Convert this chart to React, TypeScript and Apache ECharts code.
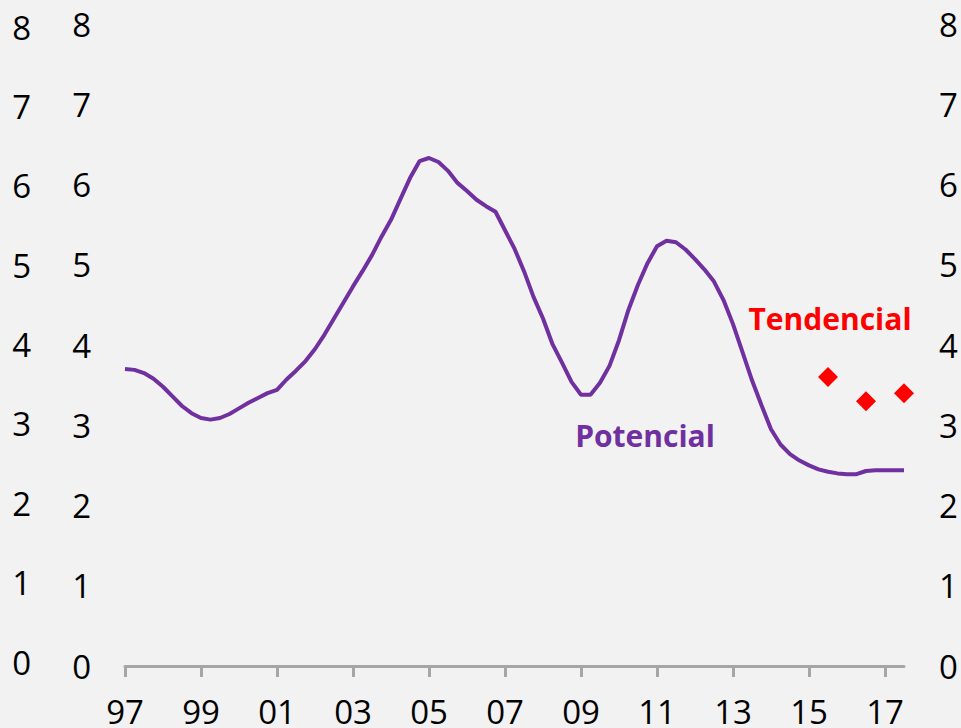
import React, { useEffect, useRef } from "react";
import * as echarts from "echarts";

// Quarterly categories 1997T1 .. 2017T3
const years = [1997, 1998, 1999, 2000, 2001, 2002, 2003, 2004, 2005, 2006, 2007, 2008, 2009, 2010, 2011, 2012, 2013, 2014, 2015, 2016, 2017];
const quarters = ["T1", "T2", "T3", "T4"];
const categories: string[] = [];
years.forEach((y) => quarters.forEach((q) => categories.push(`${y}${q}`)));
categories.splice(categories.indexOf("2017T4"), 1);

const potencial = [
  3.70, 3.69, 3.65, 3.58,
  3.48, 3.36, 3.24, 3.15,
  3.09, 3.07, 3.09, 3.14,
  3.21, 3.28, 3.34, 3.40,
  3.44, 3.57, 3.68, 3.80,
  3.95, 4.13, 4.33, 4.53,
  4.73, 4.92, 5.12, 5.35,
  5.56, 5.82, 6.08, 6.29,
  6.33, 6.28, 6.17, 6.02,
  5.92, 5.81, 5.73, 5.66,
  5.43, 5.20, 4.92, 4.60,
  4.33, 4.01, 3.78, 3.54,
  3.38, 3.38, 3.53, 3.74,
  4.06, 4.44, 4.75, 5.02,
  5.23, 5.30, 5.28, 5.19,
  5.07, 4.94, 4.79, 4.56,
  4.26, 3.91, 3.56, 3.25,
  2.95, 2.76, 2.64, 2.56,
  2.50, 2.45, 2.42, 2.40,
  2.39, 2.39, 2.43, 2.44,
  2.44, 2.44, 2.44,
];

const tendCats = ["2015T3", "2016T3", "2017T3"];
const tendVals = [3.6, 3.3, 3.4];

const yTicks = { min: 0, max: 8, interval: 1 };

const FONT = "'Open Sans', sans-serif";
const AXIS_GRAY = "#a6a6a6";
const PURPLE = "#7030a0";
const RED = "#ff0000";

export default function App() {
  const ref = useRef<HTMLDivElement>(null);
  useEffect(() => {
    if (!ref.current) return;
    const chart = echarts.init(ref.current, null, { renderer: "svg" });
    const yLabel = { fontSize: 33, color: "#000", fontFamily: FONT };
    chart.setOption({
      animation: false,
      backgroundColor: "#f2f2f2",
      textStyle: { fontFamily: FONT },
      grid: [
        { left: 125, right: 57, top: 24, bottom: 62 },
        { left: 125, right: 57, top: 27, bottom: 66 },
      ],
      xAxis: [
        {
          type: "category",
          gridIndex: 0,
          data: categories,
          boundaryGap: false,
          axisLine: { lineStyle: { color: AXIS_GRAY, width: 3 } },
          axisTick: { interval: 7, length: 11, lineStyle: { color: AXIS_GRAY, width: 3 } },
          axisLabel: {
            interval: 7,
            margin: 29,
            fontSize: 33,
            color: "#000",
            fontFamily: FONT,
            formatter: (v: string) => v.slice(2, 4),
          },
          splitLine: { show: false },
        },
        {
          type: "category",
          gridIndex: 1,
          data: categories,
          boundaryGap: false,
          show: false,
        },
      ],
      yAxis: [
        {
          type: "value",
          gridIndex: 0,
          position: "left",
          ...yTicks,
          axisLine: { show: false },
          axisTick: { show: false },
          splitLine: { show: false },
          axisLabel: { ...yLabel, margin: 34 },
        },
        {
          type: "value",
          gridIndex: 0,
          position: "right",
          ...yTicks,
          axisLine: { show: false },
          axisTick: { show: false },
          splitLine: { show: false },
          axisLabel: { ...yLabel, margin: 35 },
        },
        {
          type: "value",
          gridIndex: 1,
          position: "left",
          ...yTicks,
          axisLine: { show: false },
          axisTick: { show: false },
          splitLine: { show: false },
          axisLabel: { ...yLabel, margin: 94 },
        },
      ],
      series: [
        {
          name: "Potencial",
          type: "line",
          xAxisIndex: 0,
          yAxisIndex: 0,
          data: potencial,
          symbol: "none",
          lineStyle: { color: PURPLE, width: 4 },
          itemStyle: { color: PURPLE },
        },
        {
          name: "Tendencial",
          type: "scatter",
          xAxisIndex: 0,
          yAxisIndex: 0,
          data: tendCats.map((c, i) => [c, tendVals[i]]),
          symbol: "diamond",
          symbolSize: 20,
          itemStyle: { color: RED, opacity: 1 },
        },
      ],
      graphic: [
        {
          type: "text",
          x: 645,
          y: 435,
          style: {
            text: "Potencial",
            fill: PURPLE,
            font: `bold 30px ${FONT}`,
            textAlign: "center",
            textVerticalAlign: "middle",
          },
        },
        {
          type: "text",
          x: 830,
          y: 318,
          style: {
            text: "Tendencial",
            fill: RED,
            font: `bold 30px ${FONT}`,
            textAlign: "center",
            textVerticalAlign: "middle",
          },
        },
      ],
    });
    return () => chart.dispose();
  }, []);
  return (
    <div
      style={{ position: "fixed", left: 0, top: 0, width: 961, height: 728, background: "#f2f2f2" }}
    >
      <div ref={ref} style={{ width: 961, height: 728 }} />
    </div>
  );
}
